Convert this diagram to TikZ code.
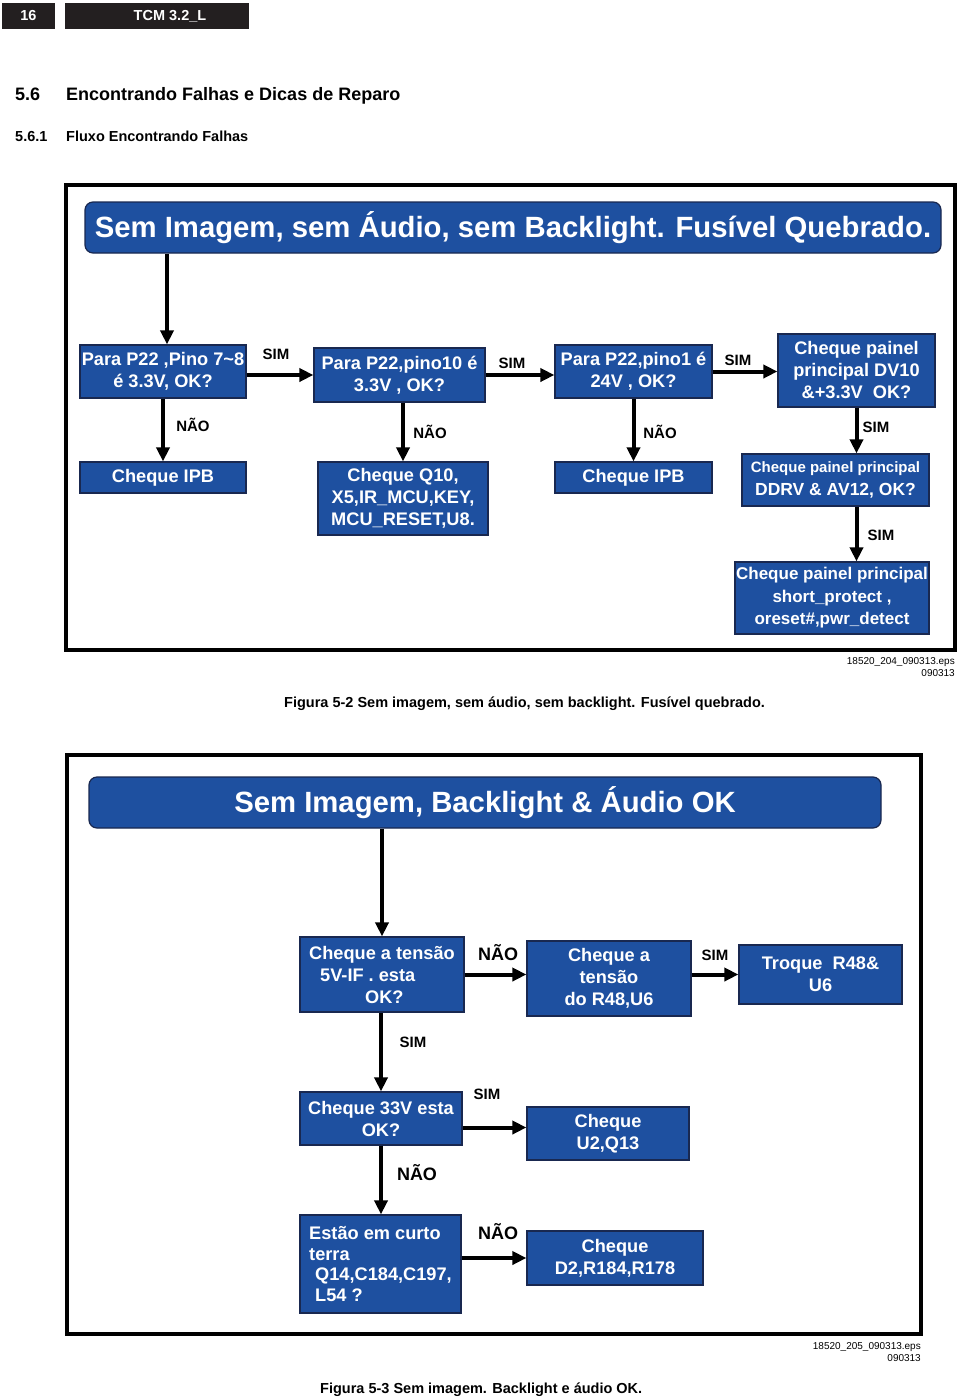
\documentclass[tikz,border=0pt]{standalone}
\usepackage{fontspec}
\setmainfont{Liberation Sans}
\usetikzlibrary{arrows.meta}
\definecolor{boxblue}{RGB}{30,80,160}
\definecolor{boxline}{RGB}{25,40,80}
\definecolor{hdrblack}{RGB}{35,31,32}
\newcommand{\fsz}[2]{\fontsize{#1}{#2}\selectfont}

\tikzset{
  blk/.style={draw=boxline, line width=1.2pt, fill=boxblue, text=white, inner sep=0pt, align=center, font=\bfseries\fsz{18.2}{22}},
  ttl/.style={blk, rounded corners=8pt, font=\bfseries\fsz{29.3}{34}},
  arr/.style={line width=4pt, -{Triangle[length=14pt,width=13pt]}},
  lbl/.style={font=\bfseries\fsz{15}{18}, inner sep=0pt},
  lblbig/.style={font=\bfseries\fsz{18}{21}, inner sep=0pt},
  frm/.style={line width=3.5pt},
  hdr/.style={fill=hdrblack, text=white, inner sep=0pt, font=\bfseries\fsz{14.5}{17}},
  eps/.style={font=\fsz{10}{12}, inner sep=0pt, anchor=base east},
  txt/.style={inner sep=0pt, anchor=base west}
}

\begin{document}
\begin{tikzpicture}[x=1pt, y=-1pt]
  \useasboundingbox (0,0) rectangle (960,1399);

  % page header
  \node[hdr, minimum width=53pt, minimum height=26pt] (pg) at (28.5,16) {16};
  \node[hdr, minimum width=184pt, minimum height=26pt] (doc) at (157,16) {\hspace*{26pt}TCM 3.2\_L};
  \node[txt, font=\bfseries\fsz{18}{21}] (sec) at (15,101) {5.6};
  \node[txt, font=\bfseries\fsz{18}{21}] (sectitle) at (66,101) {Encontrando Falhas e Dicas de Reparo};
  \node[txt, font=\bfseries\fsz{14.5}{17}] (sub) at (15,142) {5.6.1};
  \node[txt, font=\bfseries\fsz{14.5}{17}] (subtitle) at (66,142) {Fluxo Encontrando Falhas};

  % figure 5-2
  \draw[frm] (66,185) rectangle (955,650);
  \node[ttl, minimum width=856pt, minimum height=51pt] (t1) at (513,227.5) {Sem Imagem, sem Áudio, sem Backlight. Fusível Quebrado.};
  \node[blk, minimum width=166pt, minimum height=53pt] (1) at (163,371.5) {Para P22 ,Pino 7\textasciitilde 8\\é 3.3V, OK?};
  \node[blk, minimum width=171pt, minimum height=54pt] (2) at (399.5,375) {Para P22,pino10 é\\3.3V , OK?};
  \node[blk, minimum width=157pt, minimum height=53pt] (3) at (633.5,371.5) {Para P22,pino1 é\\24V , OK?};
  \node[blk, minimum width=157pt, minimum height=73pt] (4) at (856.5,370.5) {Cheque painel\\principal DV10\\\&+3.3V~~OK?};
  \node[blk, minimum width=166pt, minimum height=31pt] (5) at (163,477.5) {Cheque IPB};
  \node[blk, minimum width=170pt, minimum height=73pt] (6) at (403,498.5) {Cheque Q10,\\X5,IR\_MCU,KEY,\\MCU\_RESET,U8.};
  \node[blk, minimum width=157pt, minimum height=31pt] (7) at (633.5,477.5) {Cheque IPB};
  \node[blk, minimum width=187pt, minimum height=52pt, font=\bfseries\fsz{17.5}{23}] (8) at (835.5,480) {{\fsz{15}{18}Cheque painel principal}\\DDRV \& AV12, OK?};
  \node[blk, minimum width=194pt, minimum height=72pt, font=\bfseries\fsz{17}{22.5}] (9) at (832,598) {Cheque painel principal\\short\_protect ,\\oreset\#,pwr\_detect};

  \draw[arr] ([xshift=4pt]t1.south -| 1.north) -- ([xshift=4pt]1.north);
  \draw[arr] (1.east |- 2.west) -- node[lbl, xshift=-4pt, yshift=21pt] (s1) {SIM} (2.west);
  \draw[arr] (2.east) -- node[lbl, xshift=-8pt, yshift=12pt] (s2) {SIM} (2.east -| 3.west);
  \draw[arr] (3.east) -- node[lbl, xshift=-7pt, yshift=11.5pt] (s3) {SIM} (3.east -| 4.west);
  \draw[arr] (1) -- node[lbl, xshift=30pt, yshift=5pt] (n1) {NÃO} (5);
  \draw[arr] (2.south -| 6.north) -- node[lbl, xshift=27pt] (n2) {NÃO} (6.north);
  \draw[arr] (3) -- node[lbl, xshift=26.5pt, yshift=-2pt] (n3) {NÃO} (7);
  \draw[arr] (4) -- node[lbl, xshift=19.5pt, yshift=3pt] (s4) {SIM} (4 |- 8.north);
  \draw[arr] (8.south -| 4) -- node[lbl, xshift=24.5pt, yshift=-1pt] (s5) {SIM} (9.north -| 4);

  \node[eps] (e1) at (955,664) {18520\_204\_090313.eps};
  \node[eps] (e1d) at (955,676) {090313};
  \node[txt, font=\bfseries\fsz{14.5}{17}] (cap1) at (284,707) {Figura 5-2 Sem imagem, sem áudio, sem backlight. Fusível quebrado.};

  % figure 5-3
  \draw[frm] (67,755) rectangle (921,1334);
  \node[ttl, minimum width=792pt, minimum height=51pt] (t2) at (485,802.5) {Sem Imagem, Backlight \& Áudio OK};
  \node[blk, minimum width=164pt, minimum height=75pt, align=left] (10) at (382,974.5) {Cheque a tensão\\\hspace*{11pt}5V-IF . esta\\\hspace*{56pt}OK?};
  \node[blk, minimum width=164pt, minimum height=75pt] (11) at (609,978.5) {Cheque a\\tensão\\do R48,U6};
  \node[blk, minimum width=163pt, minimum height=59pt] (12) at (820.5,974.5) {Troque~~R48\&\\U6};
  \node[blk, minimum width=162pt, minimum height=53pt] (13) at (381,1118.5) {Cheque 33V esta\\OK?};
  \node[blk, minimum width=162pt, minimum height=53pt] (14) at (608,1133.5) {Cheque\\U2,Q13};
  \node[blk, minimum width=161pt, minimum height=98pt, align=left, font=\bfseries\fsz{18.2}{20.7}] (15) at (380.5,1264) {Estão em curto\\terra\\\hspace*{6pt}Q14,C184,C197,\\\hspace*{6pt}L54 ?};
  \node[blk, minimum width=176pt, minimum height=54pt] (16) at (615,1258) {Cheque\\D2,R184,R178};

  \draw[arr] (t2.south -| 10.north) -- (10.north);
  \draw[arr] (10.east) -- node[lblbig, xshift=2.5pt, yshift=21.5pt] (n4) {NÃO} (10.east -| 11.west);
  \draw[arr] (11.east |- 12.west) -- node[lbl, yshift=19.5pt] (s6) {SIM} (12.west);
  \draw[arr] (10.south -| 13.north) -- node[lbl, xshift=32pt, yshift=10pt] (s7) {SIM} (13.north);
  \draw[arr] ([yshift=-9pt]13.east) -- node[lbl, xshift=-7.5pt, yshift=33.5pt] (s8) {SIM} ([yshift=-9pt]13.east -| 14.west);
  \draw[arr] (13.south) -- node[lblbig, xshift=36pt, yshift=7pt] (n5) {NÃO} (13.south |- 15.north);
  \draw[arr] (15.east |- 16.west) -- node[lblbig, xshift=4pt, yshift=26pt] (n6) {NÃO} (16.west);

  \node[eps] (e2) at (921,1349) {18520\_205\_090313.eps};
  \node[eps] (e2d) at (921,1361) {090313};
  \node[txt, font=\bfseries\fsz{14.5}{17}] (cap2) at (320,1393) {Figura 5-3 Sem imagem. Backlight e áudio OK.};
\end{tikzpicture}
\end{document}
